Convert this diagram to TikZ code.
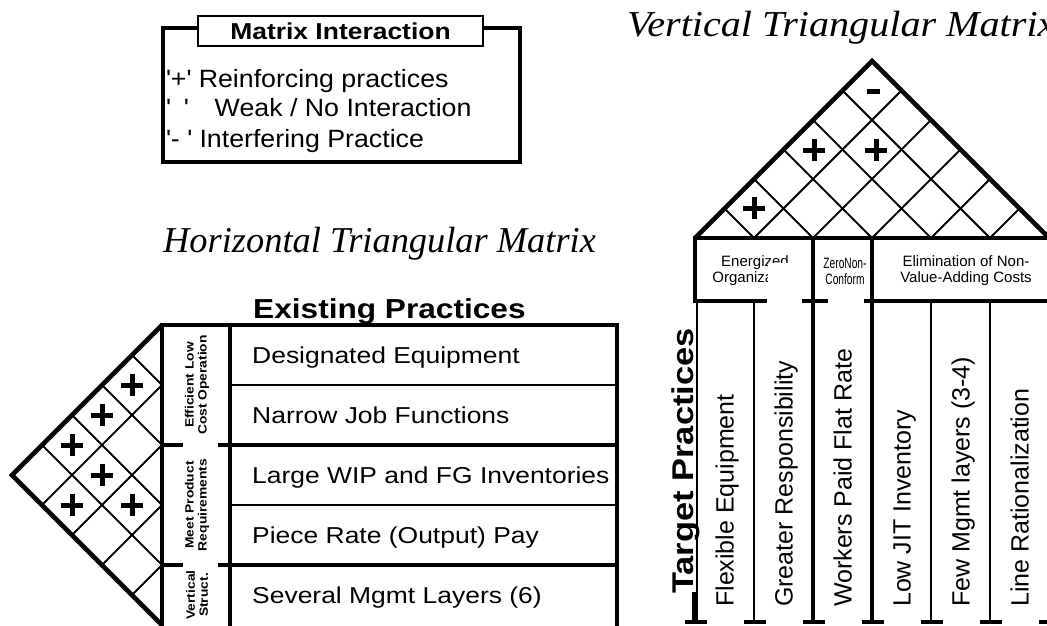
\documentclass[tikz,border=0pt]{standalone}
\usepackage{fontspec}
\setmainfont{Liberation Sans}
\newfontfamily\titlefont{Liberation Serif}
\newfontfamily\widetitlefont[FakeStretch=1.1]{Liberation Serif}
\newfontfamily\widefont[FakeStretch=1.15]{Liberation Sans}
\newfontfamily\legendfont[FakeStretch=1.07]{Liberation Sans}
\newfontfamily\narrowfont[FakeStretch=0.68]{Liberation Sans}
\usetikzlibrary{positioning}

\begin{document}
\begin{tikzpicture}[x=1pt,y=-1pt,
  frame/.style={line width=4.6pt},
  rule/.style={line width=2.2pt},
  cell/.style={line width=1.8pt},
  plus/.style={minimum size=22pt,inner sep=0pt,path picture={
      \draw[line width=5pt] (path picture bounding box.west) -- (path picture bounding box.east)
        (path picture bounding box.north) -- (path picture bounding box.south);}},
  minus/.style={minimum width=13pt,minimum height=5pt,inner sep=0pt,fill=black},
  title/.style={anchor=base west,inner sep=0pt,font=\titlefont\itshape\fontsize{36.4}{40}\selectfont},
  legend/.style={anchor=base west,inner sep=0pt,font=\legendfont\fontsize{25}{30}\selectfont},
  practice/.style={anchor=base west,inner sep=0pt,font=\widefont\fontsize{23}{26}\selectfont},
  group/.style={rotate=90,align=center,inner sep=0pt,font=\widefont\bfseries\fontsize{12}{13}\selectfont},
  header/.style={align=center,inner sep=0pt,font=\fontsize{15}{16}\selectfont},
  colname/.style={rotate=90,anchor=base west,inner sep=0pt,font=\fontsize{25}{30}\selectfont}
]
\useasboundingbox (0,0) rectangle (1047,626);
\clip (0,0) rectangle (1047,626);

% legend
\draw[frame] (198,28) -| (163,162) -| (520,28) -- (483,28);
\node[draw,line width=1.6pt,minimum width=285pt,minimum height=30pt,inner sep=0pt,
  font=\widefont\bfseries\fontsize{23}{26}\selectfont] (legend title) at (340.5,31) {Matrix Interaction};
\node[legend] (reinforce) at (166,88) {\textquotesingle+\textquotesingle\ Reinforcing practices};
\node[legend] (weak) at (166,117) {\textquotesingle\hspace{13pt}\textquotesingle\hspace{26pt}Weak / No Interaction};
\node[legend] (interfere) at (166,147) {\textquotesingle-\ \textquotesingle\ Interfering Practice};

% titles
\node[title] (htitle) at (163,252) {Horizontal Triangular Matrix};
\node[title,font=\widetitlefont\itshape\fontsize{36.5}{40}\selectfont] (vtitle) at (627,37) {Vertical Triangular Matrix};

% horizontal matrix
\node[anchor=base west,inner sep=0pt,font=\widefont\bfseries\fontsize{27.5}{30}\selectfont] (existing) at (253,318) {Existing Practices};
\foreach \txt [count=\i] in {Designated Equipment,Narrow Job Functions,Large WIP and FG Inventories,Piece Rate (Output) Pay,Several Mgmt Layers (6)}
  \node[practice] (row\i) at (252,295+60*\i+8) {\txt};

\draw[frame] (160,325) -- (619,325);
\draw[frame] (162,323) -- (162,626) (230,323) -- (230,626) (617,323) -- (617,626);
\foreach \y in {445,565}
  \draw[frame] (160,\y) -- (183,\y) (218,\y) -- (619,\y);
\foreach \y in {385,505}
  \draw[rule] (230,\y) -- (617,\y);

\draw[frame] (162,325) -- (12,475) -- (162,625);
\foreach \y in {385,445,505,565} {
  \draw[cell] (162,\y) -- ++({-(\y-325)/2},{-(\y-325)/2});
  \draw[cell] (162,\y) -- ++({-(625-\y)/2},{(625-\y)/2});
}

\node[group] (efficient) at (197,385) {Efficient Low\\Cost Operation};
\node[group] (meet) at (197,505) {Meet Product\\Requirements};
\node[group] (vertical) at (197,595) {Vertical\\Struct.};

\foreach \x/\y [count=\k] in {132/385,102/415,72/445,102/475,72/505,132/505}
  \node[plus] (hplus\k) at (\x,\y) {};

% vertical matrix
\draw[frame] (693,238) -- (1049,238);
\draw[frame] (695,238) -- (872,61) -- (1049,238);
\foreach \x in {754,813,872,931,990} {
  \draw[cell] (\x,238) -- ++({-(\x-695)/2},{-(\x-695)/2});
  \draw[cell] (\x,238) -- ++({(1049-\x)/2},{-(1049-\x)/2});
}
\node[plus] (vplus1) at (754,208) {};
\node[plus] (vplus2) at (814,150) {};
\node[plus] (vplus3) at (876,150) {};
\node[minus] (vminus) at (873,91) {};

\draw[frame] (695,236) -- (695,303);
\draw[frame] (813,238) -- (813,622) (872,238) -- (872,622) (1049,238) -- (1049,622);
\draw[rule] (697,301) -- (697,622);
\foreach \x in {754,931,990}
  \draw[rule] (\x,301) -- (\x,622);
\draw[frame] (694,592) -- (694,624);
\draw[frame] (695,301) -- (767,301) (802,301) -- (828,301) (864,301) -- (1049,301);
\foreach \x in {695,754,813,872,931,990,1049}
  \draw[frame] (\x-10,622) -- (\x+12,622);

\begin{scope}
  \clip (700,240) -- (800,240) -- (800,262) -- (767,262) -- (767,300) -- (700,300) -- cycle;
  \node[header] (energized) at (755,271) {Energized\\Organization};
\end{scope}
\begin{scope}
  \clip (815,240) rectangle (872,283);
  \node[header,font=\narrowfont\fontsize{15}{16}\selectfont] (zero) at (845,271) {ZeroNon-\\Conform};
\end{scope}
\node[header] (elimination) at (966,271) {Elimination of Non-\\Value-Adding Costs};

\node[rotate=90,inner sep=0pt,font=\widefont\bfseries\fontsize{30}{32}\selectfont] (targets) at (686,461) {Target Practices};
\foreach \txt [count=\i] in {Flexible Equipment,Greater Responsibility,Workers Paid Flat Rate,Low JIT Inventory,Few Mgmt layers (3-4),Line Rationalization}
  \node[colname] (col\i) at (695+59*\i-20.5,607) {\txt};
\end{tikzpicture}
\end{document}
